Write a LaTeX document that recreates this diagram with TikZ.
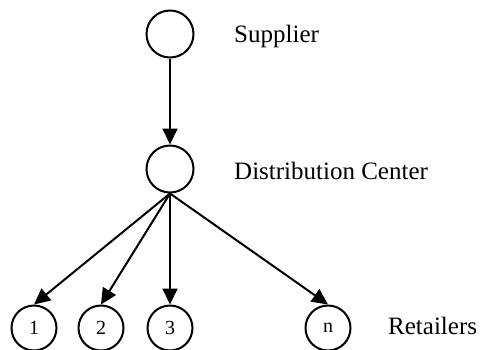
\documentclass[tikz,border=0pt]{standalone}
\usepackage{fontspec}
\setmainfont{Liberation Serif}
\usetikzlibrary{arrows.meta}
\begin{document}
\begin{tikzpicture}[x=1pt,y=-1pt,
  site/.style={circle,draw,line width=2pt,minimum size=47pt,inner sep=0pt},
  shop/.style={circle,draw,line width=2pt,minimum size=45pt,inner sep=0pt,font=\fontsize{20}{24}\selectfont},
  label/.style={anchor=base west,inner sep=0pt,font=\fontsize{25}{30}\selectfont},
  flow/.style={line width=2pt,-{Triangle[length=16pt,width=15pt]}}]
\useasboundingbox (0,0) rectangle (481,349);
% supply chain levels
\node[site] (sup) at (170,34) {};
\node[site] (dc) at (170,169) {};
\node[shop] (r1) at (34,328) {1};
\node[shop] (r2) at (101,328) {2};
\node[shop] (r3) at (170,328) {3};
\node[shop] (rn) at (328,328) {n};
% level captions
\node[label] (tsup) at (234,42) {Supplier};
\node[label] (tdc) at (234,179) {Distribution Center};
\node[label] (tret) at (388,334) {Retailers};
% shipments
\draw[flow] (sup) -- (dc);
\foreach \r in {r1,r2,r3,rn}
  \draw[flow] (dc.south) -- (\r.north);
\end{tikzpicture}
\end{document}
